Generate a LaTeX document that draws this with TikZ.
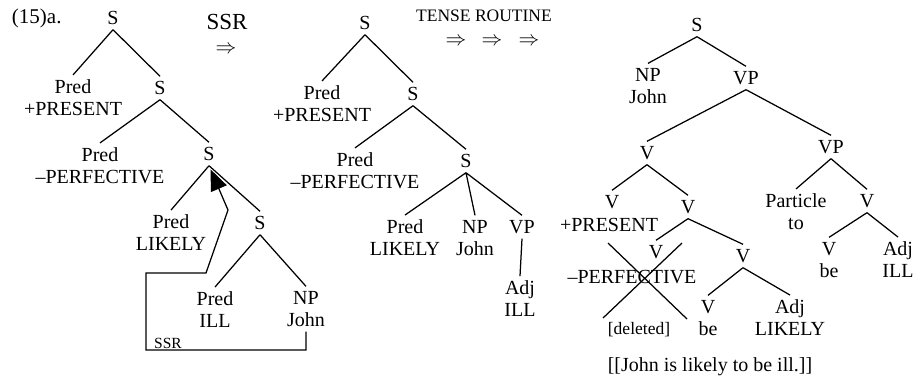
\documentclass[tikz,border=0pt]{standalone}
\usepackage{fontspec}
\setmainfont{Liberation Serif}
\usetikzlibrary{arrows.meta}

\begin{document}
\begin{tikzpicture}[x=1pt,y=-1pt,line width=1.25pt,
    every node/.style={font=\fontsize{20}{22}\selectfont, inner sep=2pt, outer sep=3pt}]
        \tikzstyle{two}=[align=center]
        \tikzstyle{small}=[font=\fontsize{17.5}{19}\selectfont]
        \tikzstyle{big}=[font=\fontsize{22}{23}\selectfont, inner sep=0pt, outer sep=0pt]
        \useasboundingbox (0,0) rectangle (918,380);

        % first tree, before SSR
        \node[anchor=west, font=\fontsize{21}{22}\selectfont] (num) at (7,18) {(15)a.};
        \node (s1) at (113,18) {S};
        \node[two] (p1) at (73,98) {Pred\\+PRESENT};
        \node (s2) at (160,88) {S};
        \node[two] (p2) at (100,166) {Pred\\–PERFECTIVE};
        \node (s3) at (209,154) {S};
        \node[two] (p3) at (171,233) {Pred\\LIKELY};
        \node (s4) at (260,223) {S};
        \node[two] (p4) at (215,310) {Pred\\ILL};
        \node[two] (np1) at (306,309) {NP\\John};
        \node[font=\fontsize{15.5}{17}\selectfont] (ssr) at (168,343) {SSR};

        \draw (s1.south) -- (p1.north) (s1.south) -- (s2.north);
        \draw (s2.south) -- (p2.north) (s2.south) -- (s3.north);
        \draw (s3.south) -- (p3.north) (s3.south) -- (s4.north);
        \draw (s4.south) -- (p4.north) (s4.south) -- (np1.north);
        \draw[-{Triangle[length=21pt,width=17pt]}, shorten >=4pt]
            (np1.south) |- (146,350) |- (206,273) -- (228,210) -- (s3.south);

        % the rules
        \node[big, font=\fontsize{23}{24}\selectfont] (rule1) at (227,22) {SSR};
        \node[big] (arr1) at (226,50) {$\Rightarrow$};
        \node[small, inner sep=0pt, outer sep=0pt] (rule2) at (484,16) {TENSE ROUTINE};
        \node[big] (arr2) at (456,42) {$\Rightarrow$};
        \node[big] (arr3) at (492,42) {$\Rightarrow$};
        \node[big] (arr4) at (529,42) {$\Rightarrow$};

        % second tree
        \node (s5) at (365,23) {S};
        \node[two] (p5) at (322,104) {Pred\\+PRESENT};
        \node (s6) at (413,94) {S};
        \node[two] (p6) at (355,171) {Pred\\–PERFECTIVE};
        \node (s7) at (466,161) {S};
        \node[two] (p7) at (405,238) {Pred\\LIKELY};
        \node[two] (np2) at (475,238) {NP\\John};
        \node (vp1) at (522,227) {VP};
        \node[two] (adj1) at (520,299) {Adj\\ILL};

        \draw (s5.south) -- (p5.north) (s5.south) -- (s6.north);
        \draw (s6.south) -- (p6.north) (s6.south) -- (s7.north);
        \draw (s7.south) -- (p7.north) (s7.south) -- (np2.north) (s7.south) -- (vp1.north);
        \draw (vp1.south) -- (adj1.north);

        % third tree
        \node (s8) at (697,25) {S};
        \node[two] (np3) at (648,86) {NP\\John};
        \node (vp2) at (746,78) {VP};
        \node (v1) at (647,153) {V};
        \node (vp3) at (831,147) {VP};
        \node (v2) at (612,202) {V};
        \node (pres) at (609,225) {+PRESENT};
        \node (v3) at (688,207) {V};
        \node (v4) at (656,252) {V};
        \node (perf) at (632,277) {–PERFECTIVE};
        \node (v5) at (743,256) {V};
        \node[two] (v6) at (708,318) {V\\be};
        \node[two] (adj2) at (790,318) {Adj\\LIKELY};
        \node[small] (del) at (639,330) {[deleted]};
        \node[two] (part) at (796,212) {Particle\\to};
        \node (v7) at (867,201) {V};
        \node[two] (v8) at (829,260) {V\\be};
        \node[two] (adj3) at (898,260) {Adj\\ILL};
        \node (sent) at (710,367) {[[John is likely to be ill.]]};

        \draw (s8.south) -- (np3.north) (s8.south) -- (vp2.north);
        \draw (vp2.south) -- (v1.north) (vp2.south) -- (vp3.north);
        \draw (v1.south) -- (v2.north) (v1.south) -- (v3.north);
        \draw (v3.south) -- (v4.north) (v3.south) -- (v5.north);
        \draw (v5.south) -- (v6.north) (v5.south) -- (adj2.north);
        \draw (vp3.south) -- (part.north) (vp3.south) -- (v7.north);
        \draw (v7.south) -- (v8.north) (v7.south) -- (adj3.north);

        % crossed out
        \coordinate (xa) at (608,243);
        \coordinate (xb) at (687,319);
        \coordinate (xc) at (682,243);
        \coordinate (xd) at (603,318);
        \draw (xa) -- (xb) (xc) -- (xd);
    \end{tikzpicture}
\end{document}
